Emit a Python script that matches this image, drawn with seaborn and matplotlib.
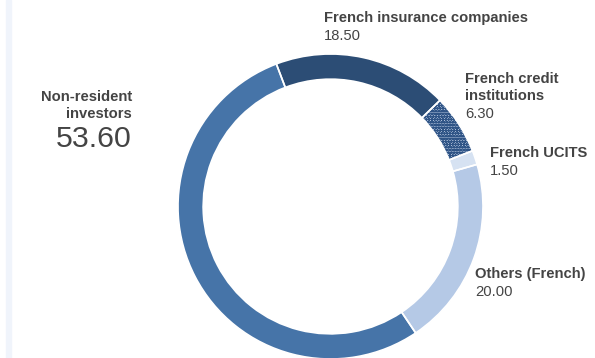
import matplotlib
matplotlib.use("Agg")
import matplotlib.pyplot as plt
import seaborn as sns

categories = ["French insurance companies", "French credit institutions", "French UCITS",
              "Others (French)", "Non-resident investors"]
values = [18.50, 6.30, 1.50, 20.00, 53.60]
label_titles = ["French insurance companies", "French credit\ninstitutions", "French UCITS",
                "Others (French)", "Non-resident\ninvestors"]
value_labels = ["18.50", "6.30", "1.50", "20.00", "53.60"]
colors = ["#2c4d75", "#c9d7ec", "#d6e2f2", "#b5c9e6", "#4674a8"]

sns.set_theme(style="white")
plt.rcParams['font.family'] = ['Liberation Sans', 'DejaVu Sans']

W, H = 595, 358
fig = plt.figure(figsize=(W / 100, H / 100), dpi=100)

# light left rule
fig.patches.append(plt.Rectangle((6 / W, 0), 5 / W, 1, transform=fig.transFigure,
                                 color="#f0f4fb", zorder=0))

cx, cy, r = 330.5, 206.5, 152.5
ax = fig.add_axes([(cx - r) / W, 1 - (cy + r) / H, 2 * r / W, 2 * r / H])
start = 90 + 20.8
wedges, _ = ax.pie(values, colors=colors, startangle=start, counterclock=False,
                   wedgeprops=dict(width=0.165, linewidth=0))
wedges[1].set_hatch("oooooo")
wedges[1].set_edgecolor("#2f5486")
wedges[1].set_linewidth(0)
# white separators
ax.pie(values, colors=["none"] * len(values), startangle=start, counterclock=False,
       wedgeprops=dict(width=0.165, linewidth=1.2, edgecolor="white"))
ax.set_xlim(-1, 1)
ax.set_ylim(-1, 1)
ax.set_aspect("equal")
ax.axis("off")

txt = "#444444"
fs = 10.6

def lab(x, y, title, val, ha="left", big=False):
    lines = title.split("\n")
    for i, line in enumerate(lines):
        fig.text(x / W, 1 - (y + i * 17.5) / H, line, ha=ha, va="top", fontsize=fs,
                 fontweight="bold", color=txt)
    vy = y + len(lines) * 17.5
    fig.text(x / W, 1 - vy / H, val, ha=ha, va="top",
             fontsize=21.8 if big else fs, color=txt)

lab(324, 11, label_titles[0], value_labels[0])
lab(465, 72, label_titles[1], value_labels[1])
lab(490, 146, label_titles[2], value_labels[2])
lab(475, 267, label_titles[3], value_labels[3])
lab(132, 90, label_titles[4], value_labels[4], ha="right", big=True)

fig.savefig("out.png", dpi=100)
